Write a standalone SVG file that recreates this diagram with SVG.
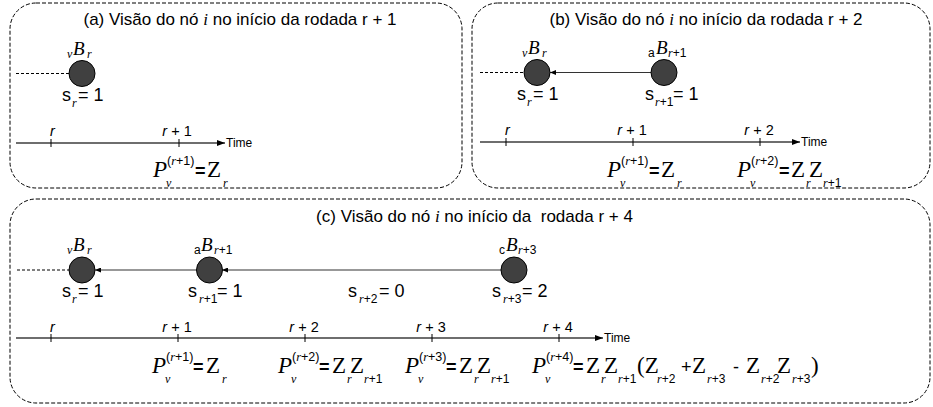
<svg xmlns="http://www.w3.org/2000/svg" width="933" height="407" viewBox="0 0 933 407">
<style>
.box{fill:none;stroke:#000;stroke-width:1;stroke-dasharray:4 2}
.ss{font-family:"Liberation Sans",Arial,sans-serif}
.sr{font-family:"Liberation Serif","Times New Roman",serif}
.it{font-style:italic}
.title{font-family:"Liberation Sans",Arial,sans-serif;font-size:17px;fill:#000}
.node{fill:#404040;stroke:#000;stroke-width:1}
.stub{stroke:#000;stroke-width:1;stroke-dasharray:3 2;fill:none}
.edge{stroke:#333;stroke-width:1.2;fill:none;marker-end:url(#earr)}
.tl{stroke:#6e6e6e;stroke-width:2;fill:none;marker-end:url(#tarr)}
.tick{stroke:#000;stroke-width:1}
.tlab{font-family:"Liberation Sans",Arial,sans-serif;font-size:14.5px}
.time{font-family:"Liberation Sans",Arial,sans-serif;font-size:12px}
.B{font-family:"Liberation Serif","Times New Roman",serif;font-style:italic;font-size:19px}
.sub{font-size:12px}
.slab{font-family:"Liberation Sans",Arial,sans-serif;font-size:18px}
.P{font-family:"Liberation Serif","Times New Roman",serif;font-style:italic;font-size:23px}
.Z{font-family:"Liberation Serif","Times New Roman",serif;font-size:23px}
.eq{font-family:"Liberation Sans",Arial,sans-serif;font-size:18px;font-weight:bold}
.op{font-family:"Liberation Sans",Arial,sans-serif;font-size:18px}
</style>
<defs>
<marker id="tarr" markerUnits="userSpaceOnUse" markerWidth="8" markerHeight="6" refX="8" refY="3" orient="auto"><path d="M0,0 L8,3 L0,6 z" fill="#000"/></marker>
<marker id="earr" markerUnits="userSpaceOnUse" markerWidth="6" markerHeight="5" refX="6" refY="2.5" orient="auto"><path d="M0,0 L6,2.5 L0,5 z" fill="#000"/></marker>
</defs>

<!-- Panel frames -->
<g id="panel-a">
<rect class="box" x="10" y="3" width="452" height="185" rx="26" ry="26"/>
<text class="title" x="240" y="25" text-anchor="middle">(a) Visão do nó <tspan class="sr it">i</tspan> no início da rodada r + 1</text>
</g>
<g id="panel-b">
<rect class="box" x="472" y="3" width="458" height="185" rx="26" ry="26"/>
<text class="title" x="706" y="25" text-anchor="middle">(b) Visão do nó <tspan class="sr it">i</tspan> no início da rodada r + 2</text>
</g>
<g id="panel-c">
<rect class="box" x="10" y="199" width="920" height="204" rx="26" ry="26"/>
<text class="title" x="474.5" y="222" text-anchor="middle" xml:space="preserve">(c) Visão do nó <tspan class="sr it">i</tspan> no início da  rodada r + 4</text>
</g>

<!-- Connectors -->
<g id="connectors">
<line class="stub" x1="16" y1="73.5" x2="69" y2="73.5"/>
<line class="stub" x1="480" y1="72.5" x2="524" y2="72.5"/>
<line class="edge" x1="651" y1="72.5" x2="550" y2="72.5"/>
<line class="stub" x1="17" y1="270" x2="69" y2="270"/>
<line class="edge" x1="197" y1="270" x2="95" y2="270"/>
<line class="edge" x1="501" y1="270" x2="222" y2="270"/>
</g>

<!-- Nodes panel a -->
<g id="a-vBr">
<circle class="node" cx="82" cy="73.5" r="13"/>
<text class="sr it sub" x="67" y="57.5">v</text>
<text class="B" x="73" y="54.5">B</text>
<text class="sr it sub" x="87" y="57.5">r</text>
<text class="slab" x="62" y="100.5">s</text>
<text class="sr it sub" x="72" y="106.5">r</text>
<text class="slab" x="78" y="100.5">= 1</text>
</g>

<!-- Nodes panel b -->
<g id="b-vBr">
<circle class="node" cx="537" cy="72.5" r="13"/>
<text class="sr it sub" x="522" y="56.5">v</text>
<text class="B" x="528" y="53.5">B</text>
<text class="sr it sub" x="542" y="56.5">r</text>
<text class="slab" x="517" y="99.5">s</text>
<text class="sr it sub" x="527" y="105.5">r</text>
<text class="slab" x="533" y="99.5">= 1</text>
</g>
<g id="b-aBr1">
<circle class="node" cx="664" cy="72.5" r="13"/>
<text class="ss sub" x="648" y="56.5" font-size="11">a</text>
<text class="B" x="656" y="53.5">B</text>
<text x="668" y="56.5" class="sub"><tspan class="sr it">r</tspan><tspan class="ss">+1</tspan></text>
<text class="slab" x="645" y="99.5">s</text>
<text x="655" y="105.5" class="sub"><tspan class="sr it">r</tspan><tspan class="ss">+1</tspan></text>
<text class="slab" x="673" y="99.5">= 1</text>
</g>

<!-- Nodes panel c -->
<g id="c-vBr">
<circle class="node" cx="82" cy="270" r="13"/>
<text class="sr it sub" x="67" y="254">v</text>
<text class="B" x="73" y="251">B</text>
<text class="sr it sub" x="87" y="254">r</text>
<text class="slab" x="62" y="297">s</text>
<text class="sr it sub" x="72" y="303">r</text>
<text class="slab" x="78" y="297">= 1</text>
</g>
<g id="c-aBr1">
<circle class="node" cx="209.5" cy="270" r="13"/>
<text class="ss sub" x="194" y="254" font-size="11">a</text>
<text class="B" x="201" y="251">B</text>
<text x="214" y="254" class="sub"><tspan class="sr it">r</tspan><tspan class="ss">+1</tspan></text>
<text class="slab" x="188" y="297">s</text>
<text x="199" y="303" class="sub"><tspan class="sr it">r</tspan><tspan class="ss">+1</tspan></text>
<text class="slab" x="217" y="297">= 1</text>
</g>
<g id="c-sr2">
<text class="slab" x="348" y="297">s</text>
<text x="359" y="303" class="sub"><tspan class="sr it">r</tspan><tspan class="ss">+2</tspan></text>
<text class="slab" x="379" y="297">= 0</text>
</g>
<g id="c-cBr3">
<circle class="node" cx="514" cy="270" r="13"/>
<text class="ss sub" x="499" y="254" font-size="11">c</text>
<text class="B" x="506" y="251">B</text>
<text x="518" y="254" class="sub"><tspan class="sr it">r</tspan><tspan class="ss">+3</tspan></text>
<text class="slab" x="492" y="297">s</text>
<text x="503" y="303" class="sub"><tspan class="sr it">r</tspan><tspan class="ss">+3</tspan></text>
<text class="slab" x="522" y="297">= 2</text>
</g>

<!-- Timeline a -->
<g id="timeline-a">
<line class="tl" x1="16" y1="143" x2="225" y2="143"/>
<line class="tick" x1="51" y1="139" x2="51" y2="147"/>
<line class="tick" x1="179" y1="139" x2="179" y2="147"/>
<text class="tlab it" x="50" y="136">r</text>
<text class="tlab" x="177" y="136" text-anchor="middle"><tspan class="it">r</tspan> + 1</text>
<text class="time" x="226" y="147">Time</text>
<text><tspan class="P" x="153" y="177">P</tspan><tspan class="sr it sub" x="166" y="187">v</tspan><tspan font-size="12.5" x="167" y="165"><tspan class="ss">(</tspan><tspan class="sr it">r</tspan><tspan class="ss">+1)</tspan></tspan><tspan class="eq" x="195" y="177">=</tspan><tspan class="Z" x="207" y="177">Z</tspan><tspan class="sr it sub" x="223" y="187">r</tspan></text>
</g>

<!-- Timeline b -->
<g id="timeline-b">
<line class="tl" x1="480" y1="142" x2="800" y2="142"/>
<line class="tick" x1="506" y1="138" x2="506" y2="146"/>
<line class="tick" x1="633" y1="138" x2="633" y2="146"/>
<line class="tick" x1="760" y1="138" x2="760" y2="146"/>
<text class="tlab it" x="505" y="135">r</text>
<text class="tlab" x="632" y="135" text-anchor="middle"><tspan class="it">r</tspan> + 1</text>
<text class="tlab" x="759" y="135" text-anchor="middle"><tspan class="it">r</tspan> + 2</text>
<text class="time" x="801" y="146">Time</text>
<text><tspan class="P" x="607" y="177">P</tspan><tspan class="sr it sub" x="620" y="187">v</tspan><tspan font-size="12.5" x="621" y="165"><tspan class="ss">(</tspan><tspan class="sr it">r</tspan><tspan class="ss">+1)</tspan></tspan><tspan class="eq" x="649" y="177">=</tspan><tspan class="Z" x="661" y="177">Z</tspan><tspan class="sr it sub" x="677" y="187">r</tspan></text>
<text><tspan class="P" x="737" y="177">P</tspan><tspan class="sr it sub" x="750" y="187">v</tspan><tspan font-size="12.5" x="751" y="165"><tspan class="ss">(</tspan><tspan class="sr it">r</tspan><tspan class="ss">+2)</tspan></tspan><tspan class="eq" x="779" y="177">=</tspan><tspan class="Z" x="791" y="177">Z</tspan><tspan class="sr it sub" x="806" y="187">r</tspan><tspan class="Z" x="809" y="177">Z</tspan><tspan class="sr it sub" x="823" y="187">r</tspan><tspan class="ss sub">+1</tspan></text>
</g>

<!-- Timeline c -->
<g id="timeline-c">
<line class="tl" x1="16" y1="338" x2="603" y2="338"/>
<line class="tick" x1="51" y1="334" x2="51" y2="342"/>
<line class="tick" x1="178" y1="334" x2="178" y2="342"/>
<line class="tick" x1="305" y1="334" x2="305" y2="342"/>
<line class="tick" x1="432" y1="334" x2="432" y2="342"/>
<line class="tick" x1="559" y1="334" x2="559" y2="342"/>
<text class="tlab it" x="50" y="332">r</text>
<text class="tlab" x="177" y="332" text-anchor="middle"><tspan class="it">r</tspan> + 1</text>
<text class="tlab" x="304" y="332" text-anchor="middle"><tspan class="it">r</tspan> + 2</text>
<text class="tlab" x="431" y="332" text-anchor="middle"><tspan class="it">r</tspan> + 3</text>
<text class="tlab" x="558" y="332" text-anchor="middle"><tspan class="it">r</tspan> + 4</text>
<text class="time" x="604" y="342">Time</text>
<text><tspan class="P" x="152" y="373">P</tspan><tspan class="sr it sub" x="165" y="383">v</tspan><tspan font-size="12.5" x="166" y="361"><tspan class="ss">(</tspan><tspan class="sr it">r</tspan><tspan class="ss">+1)</tspan></tspan><tspan class="eq" x="193" y="373">=</tspan><tspan class="Z" x="206" y="373">Z</tspan><tspan class="sr it sub" x="222" y="383">r</tspan></text>
<text><tspan class="P" x="278" y="373">P</tspan><tspan class="sr it sub" x="291" y="383">v</tspan><tspan font-size="12.5" x="292" y="361"><tspan class="ss">(</tspan><tspan class="sr it">r</tspan><tspan class="ss">+2)</tspan></tspan><tspan class="eq" x="319" y="373">=</tspan><tspan class="Z" x="332" y="373">Z</tspan><tspan class="sr it sub" x="347" y="383">r</tspan><tspan class="Z" x="350" y="373">Z</tspan><tspan class="sr it sub" x="364" y="383">r</tspan><tspan class="ss sub">+1</tspan></text>
<text><tspan class="P" x="405" y="373">P</tspan><tspan class="sr it sub" x="418" y="383">v</tspan><tspan font-size="12.5" x="419" y="361"><tspan class="ss">(</tspan><tspan class="sr it">r</tspan><tspan class="ss">+3)</tspan></tspan><tspan class="eq" x="446" y="373">=</tspan><tspan class="Z" x="459" y="373">Z</tspan><tspan class="sr it sub" x="474" y="383">r</tspan><tspan class="Z" x="477" y="373">Z</tspan><tspan class="sr it sub" x="491" y="383">r</tspan><tspan class="ss sub">+1</tspan></text>
<text><tspan class="P" x="532" y="373">P</tspan><tspan class="sr it sub" x="545" y="383">v</tspan><tspan font-size="12.5" x="546" y="361"><tspan class="ss">(</tspan><tspan class="sr it">r</tspan><tspan class="ss">+4)</tspan></tspan><tspan class="eq" x="573" y="373">=</tspan><tspan class="Z" x="586" y="373">Z</tspan><tspan class="sr it sub" x="601" y="383">r</tspan><tspan class="Z" x="604" y="373">Z</tspan><tspan class="sr it sub" x="618" y="383">r</tspan><tspan class="ss sub">+1</tspan><tspan class="Z" x="637" y="373">(Z</tspan><tspan class="sr it sub" x="657" y="383">r</tspan><tspan class="ss sub">+2</tspan><tspan class="op" x="681" y="373">+</tspan><tspan class="Z" x="692" y="373">Z</tspan><tspan class="sr it sub" x="707" y="383">r</tspan><tspan class="ss sub">+3</tspan><tspan class="op" x="733" y="373">-</tspan><tspan class="Z" x="746" y="373">Z</tspan><tspan class="sr it sub" x="761" y="383">r</tspan><tspan class="ss sub">+2</tspan><tspan class="Z" x="777" y="373">Z</tspan><tspan class="sr it sub" x="792" y="383">r</tspan><tspan class="ss sub">+3</tspan><tspan class="Z" x="811" y="373">)</tspan></text>
</g>
</svg>
